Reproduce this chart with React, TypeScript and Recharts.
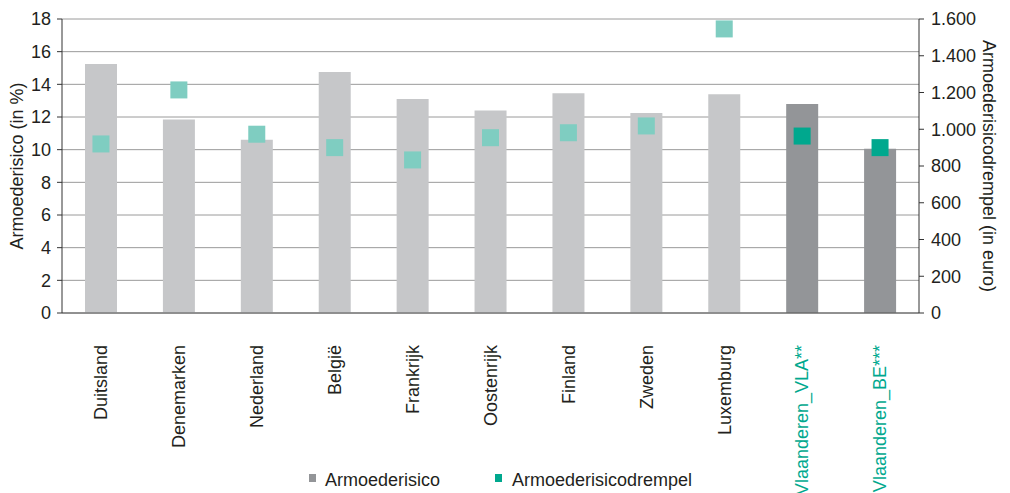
import { ComposedChart, Bar, Scatter, XAxis, YAxis, CartesianGrid, Legend, Cell } from "recharts";

const countries = [
  "Duitsland",
  "Denemarken",
  "Nederland",
  "België",
  "Frankrijk",
  "Oostenrijk",
  "Finland",
  "Zweden",
  "Luxemburg",
  "Vlaanderen_VLA**",
  "Vlaanderen_BE***",
];
const armoederisico = [15.25, 11.85, 10.6, 14.75, 13.1, 12.4, 13.45, 12.25, 13.4, 12.8, 10.05];
const drempel = [920, 1214, 973, 900, 833, 954, 981, 1018, 1546, 963, 900];
const flemish = [false, false, false, false, false, false, false, false, false, true, true];
const leftTicks = [0, 2, 4, 6, 8, 10, 12, 14, 16, 18];
const rightTicks = [0, 200, 400, 600, 800, 1000, 1200, 1400, 1600];

const data = countries.map((name, i) => ({
  name,
  risico: armoederisico[i],
  drempel: drempel[i],
  vla: flemish[i],
}));

const FONT = "'Liberation Sans', Arial, Helvetica, sans-serif";
const TEAL = "#00a88e";
const TEAL_LIGHT = "#7fcdc1";
const GREY_LIGHT = "#c6c7c9";
const GREY_DARK = "#939598";

const formatEuro = (v: number) => String(v).replace(/\B(?=(\d{3})+(?!\d))/g, ".");

const CountryTick = (props: any) => {
  const { x, payload, index } = props;
  const color = flemish[index] ? TEAL : "#231f20";
  return (
    <text
      transform={`translate(${x}, 345) rotate(-90)`}
      textAnchor="end"
      dy="0.35em"
      fontSize={18}
      fontFamily={FONT}
      fill={color}
    >
      {payload.value}
    </text>
  );
};

const Square = (props: any) => {
  const { cx, cy, payload } = props;
  if (cx == null || cy == null) return null;
  return (
    <rect
      x={cx - 8.5}
      y={cy - 8.5}
      width={17}
      height={17}
      fill={payload.vla ? TEAL : TEAL_LIGHT}
    />
  );
};

const LegendContent = () => (
  <div style={{ position: "relative", width: 1010, height: 24, fontFamily: FONT, fontSize: 18, color: "#231f20" }}>
    <div style={{ position: "absolute", left: 309, top: 6, width: 7, height: 8, background: GREY_DARK }} />
    <span style={{ position: "absolute", left: 325, top: 0, lineHeight: "24px" }}>Armoederisico</span>
    <div style={{ position: "absolute", left: 495, top: 6, width: 7, height: 8, background: TEAL }} />
    <span style={{ position: "absolute", left: 512, top: 0, lineHeight: "24px" }}>Armoederisicodrempel</span>
  </div>
);

export default function App() {
  return (
    <div style={{ position: "absolute", left: 0, top: 0, width: 1010, height: 493, background: "#fff" }}>
      <ComposedChart
        width={1010}
        height={493}
        data={data}
        margin={{ top: 19, right: 0, bottom: 0, left: 0 }}
        barCategoryGap={0}
      >
        <CartesianGrid yAxisId="left" vertical={false} stroke="#9a9a9a" />
        <XAxis
          dataKey="name"
          height={180}
          interval={0}
          tick={<CountryTick />}
          tickLine={false}
          axisLine={{ stroke: "#555" }}
        />
        <YAxis
          yAxisId="left"
          orientation="left"
          width={62}
          domain={[0, 18]}
          ticks={leftTicks}
          interval={0}
          tickSize={5}
          tickMargin={6}
          axisLine={{ stroke: "#333" }}
          tickLine={{ stroke: "#333" }}
          tick={{ fontSize: 18, fontFamily: FONT, fill: "#231f20" }}
          label={{
            value: "Armoederisico (in %)",
            angle: -90,
            position: "center",
            dx: -14,
            style: { fontSize: 18, fontFamily: FONT, fill: "#231f20" },
          }}
        />
        <YAxis
          yAxisId="right"
          orientation="right"
          width={91}
          domain={[0, 1600]}
          ticks={rightTicks}
          interval={0}
          tickSize={5}
          tickMargin={7}
          tickFormatter={formatEuro}
          axisLine={{ stroke: "#333" }}
          tickLine={{ stroke: "#333" }}
          tick={{ fontSize: 18, fontFamily: FONT, fill: "#231f20" }}
          label={{
            value: "Armoederisicodrempel (in euro)",
            angle: 90,
            position: "center",
            dx: 25,
            style: { fontSize: 18, fontFamily: FONT, fill: "#231f20" },
          }}
        />
        <Legend
          verticalAlign="middle"
          align="center"
          content={<LegendContent />}
          wrapperStyle={{ position: "absolute", top: 468, left: 0, width: 1010 }}
        />
        <Bar yAxisId="left" dataKey="risico" name="Armoederisico" barSize={32} isAnimationActive={false}>
          {data.map((d, i) => (
            <Cell key={i} fill={d.vla ? GREY_DARK : GREY_LIGHT} />
          ))}
        </Bar>
        <Scatter
          yAxisId="right"
          dataKey="drempel"
          name="Armoederisicodrempel"
          shape={<Square />}
          isAnimationActive={false}
        />
      </ComposedChart>
    </div>
  );
}
